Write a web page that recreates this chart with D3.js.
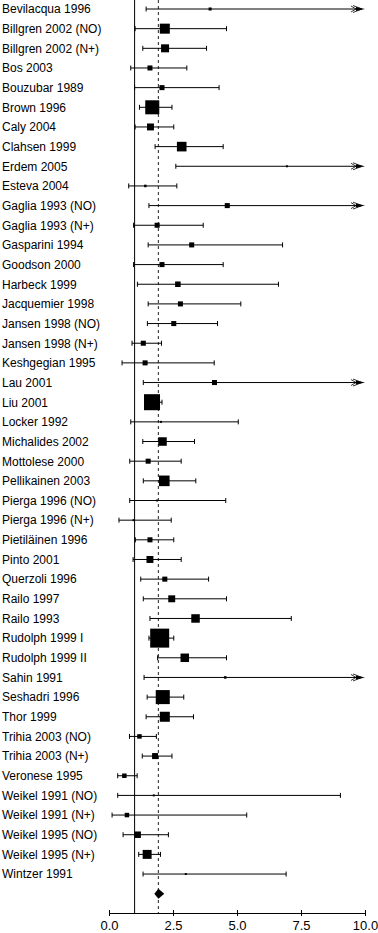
<!DOCTYPE html>
<html>
<head>
<meta charset="utf-8">
<script src="https://cdn.jsdelivr.net/npm/d3@7"></script>
<style>
  body { margin: 0; background: #fff; }
  .lab { font-family: "Liberation Sans", Arial, sans-serif; font-size: 12px; fill: #000; }
  .axis text { font-family: "Liberation Sans", Arial, sans-serif; font-size: 13px; fill: #000; }
  .axis path, .axis line { stroke: #000; }
</style>
</head>
<body>
<div id="forest"></div>
<script>
// estudios
const estudios = ["Bevilacqua 1996", "Billgren 2002 (NO)", "Billgren 2002 (N+)", "Bos 2003", "Bouzubar 1989",
  "Brown 1996", "Caly 2004", "Clahsen 1999", "Erdem 2005", "Esteva 2004", "Gaglia 1993 (NO)", "Gaglia 1993 (N+)",
  "Gasparini 1994", "Goodson 2000", "Harbeck 1999", "Jacquemier 1998", "Jansen 1998 (NO)", "Jansen 1998 (N+)",
  "Keshgegian 1995", "Lau 2001", "Liu 2001", "Locker 1992", "Michalides 2002", "Mottolese 2000", "Pellikainen 2003",
  "Pierga 1996 (NO)", "Pierga 1996 (N+)", "Pietiläinen 1996", "Pinto 2001", "Querzoli 1996", "Railo 1997",
  "Railo 1993", "Rudolph 1999 I", "Rudolph 1999 II", "Sahin 1991", "Seshadri 1996", "Thor 1999",
  "Trihia 2003 (NO)", "Trihia 2003 (N+)", "Veronese 1995", "Weikel 1991 (NO)", "Weikel 1991 (N+)",
  "Weikel 1995 (NO)", "Weikel 1995 (N+)", "Wintzer 1991"];

// estimacion puntual
const estimacion = [3.95, 2.18, 2.19, 1.60, 2.07, 1.69, 1.62, 2.84, 6.95, 1.42, 4.62, 1.88,
  3.23, 2.07, 2.69, 2.79, 2.53, 1.34, 1.41, 4.12, 1.68, 2.03, 2.09, 1.53, 2.16,
  1.88, 0.96, 1.60, 1.60, 2.18, 2.45, 3.38, 1.98, 2.96, 4.54, 2.10, 2.18,
  1.19, 1.80, 0.60, 1.75, 0.70, 1.12, 1.49, 3.00];

// limites del intervalo de confianza
const inferior = [1.45, 1.02, 1.32, 0.85, 1.00, 1.19, 1.02, 1.80, 2.61, 0.77, 1.56, 0.96,
  1.53, 0.96, 1.11, 1.53, 1.50, 0.90, 0.51, 1.34, 1.45, 0.85, 1.32, 0.81, 1.34,
  0.81, 0.39, 1.03, 0.94, 1.24, 1.34, 1.60, 1.56, 1.90, 1.37, 1.49, 1.45,
  0.80, 1.30, 0.34, 0.34, 0.12, 0.55, 1.16, 1.33];
const superior = [10.8, 4.59, 3.81, 3.04, 4.30, 2.46, 2.53, 4.46, 18.0, 2.65, 13.0, 3.68,
  6.78, 4.46, 6.62, 5.15, 4.24, 2.05, 4.11, 11.0, 2.07, 5.05, 3.34, 2.82, 3.39,
  4.56, 2.43, 2.53, 2.82, 3.89, 4.59, 7.12, 2.53, 4.59, 14.0, 2.92, 3.30,
  1.85, 2.46, 1.10, 9.04, 5.38, 2.32, 2.01, 6.92];

// peso de cada estudio (%)
const peso = [0.23, 2.5, 1.6, 0.63, 0.63, 4.9, 1.2, 2.3, 0.1, 0.16, 0.63, 0.63,
  0.63, 0.63, 0.76, 0.63, 0.63, 0.63, 0.63, 0.63, 6.4, 0.1, 1.8, 0.63, 2.8,
  0.1, 0.1, 0.63, 1.2, 0.63, 1.2, 1.8, 9.0, 1.8, 0.16, 4.9, 2.5,
  0.5, 0.9, 0.5, 0.1, 0.5, 1.05, 2.0, 0.1];

// estimacion combinada
const combinado = { est: 1.93, lo: 1.77, hi: 2.16 };

const ticksX = [0, 2.5, 5, 7.5, 10];

const datos = estudios.map((d, i) => ({
  nombre: d, est: estimacion[i], lo: inferior[i], hi: superior[i], w: peso[i]
}));

const ancho = 378, alto = 933;
const margen = { top: 9, left: 109, right: 13, axis: 913 };

const svg = d3.select("#forest").append("svg")
  .attr("width", ancho)
  .attr("height", alto);

const x = d3.scaleLinear().domain([0, 10]).range([margen.left, ancho - margen.right]);
const y = d3.scalePoint().domain([...estudios, "combinado"]).range([margen.top, 893.7]);
const lado = d3.scaleSqrt().domain([0, d3.max(peso)]).range([0, 19]);

// linea de no efecto
svg.append("line")
  .attr("x1", x(1)).attr("x2", x(1))
  .attr("y1", 0).attr("y2", margen.axis)
  .attr("stroke", "#000").attr("stroke-width", 1);

// linea del efecto combinado
svg.append("line")
  .attr("x1", x(combinado.est)).attr("x2", x(combinado.est))
  .attr("y1", 0).attr("y2", margen.axis)
  .attr("stroke", "#444").attr("stroke-width", 1.2)
  .attr("stroke-dasharray", "3,3");

// eje x
svg.append("g")
  .attr("class", "axis")
  .attr("transform", `translate(0,${margen.axis})`)
  .call(d3.axisBottom(x).tickValues(ticksX).tickFormat(d3.format(".1f")).tickSize(3).tickSizeOuter(0).tickPadding(5))
  .call(g => g.selectAll(".tick line").attr("y1", -3));

const filas = svg.selectAll("g.fila").data(datos).enter()
  .append("g").attr("class", "fila")
  .attr("transform", d => `translate(0,${y(d.nombre)})`);

filas.append("text")
  .attr("class", "lab")
  .attr("x", 2).attr("dy", "0.36em")
  .text(d => d.nombre);

// intervalo
filas.append("line")
  .attr("x1", d => x(d.lo))
  .attr("x2", d => x(Math.min(d.hi, 10)) - (d.hi > 10 ? 6 : 0))
  .attr("stroke", "#000").attr("stroke-width", 1);

filas.append("line")
  .attr("x1", d => x(d.lo)).attr("x2", d => x(d.lo))
  .attr("y1", -2.5).attr("y2", 2.5)
  .attr("stroke", "#000");

filas.filter(d => d.hi <= 10).append("line")
  .attr("x1", d => x(d.hi)).attr("x2", d => x(d.hi))
  .attr("y1", -2.5).attr("y2", 2.5)
  .attr("stroke", "#000");

// flecha cuando el intervalo pasa de 10
const flechas = filas.filter(d => d.hi > 10);
flechas.append("path")
  .attr("d", d => {
    const xe = x(10);
    return `M${xe - 14},-3 L${xe - 9},0 L${xe - 14},3 M${xe - 12},-3.5 L${xe - 3},0 L${xe - 12},3.5`;
  })
  .attr("fill", "none").attr("stroke", "#000").attr("stroke-width", 0.8);
flechas.append("path")
  .attr("d", d => {
    const xe = x(10);
    return `M${xe - 9},-2 L${xe},0 L${xe - 9},2 Z`;
  })
  .attr("fill", "#000");

// cuadrados de peso
filas.append("rect")
  .attr("x", d => x(d.est) - Math.max(lado(d.w), 2) / 2)
  .attr("y", d => -Math.max(lado(d.w), 2) / 2)
  .attr("width", d => Math.max(lado(d.w), 2))
  .attr("height", d => Math.max(lado(d.w), 2))
  .attr("fill", "#000");

// diamante combinado
const yc = y("combinado");
svg.append("path")
  .attr("d", `M${x(combinado.lo)},${yc} L${x(combinado.est)},${yc - 5} L${x(combinado.hi)},${yc} L${x(combinado.est)},${yc + 5} Z`)
  .attr("fill", "#000");
</script>
</body>
</html>
